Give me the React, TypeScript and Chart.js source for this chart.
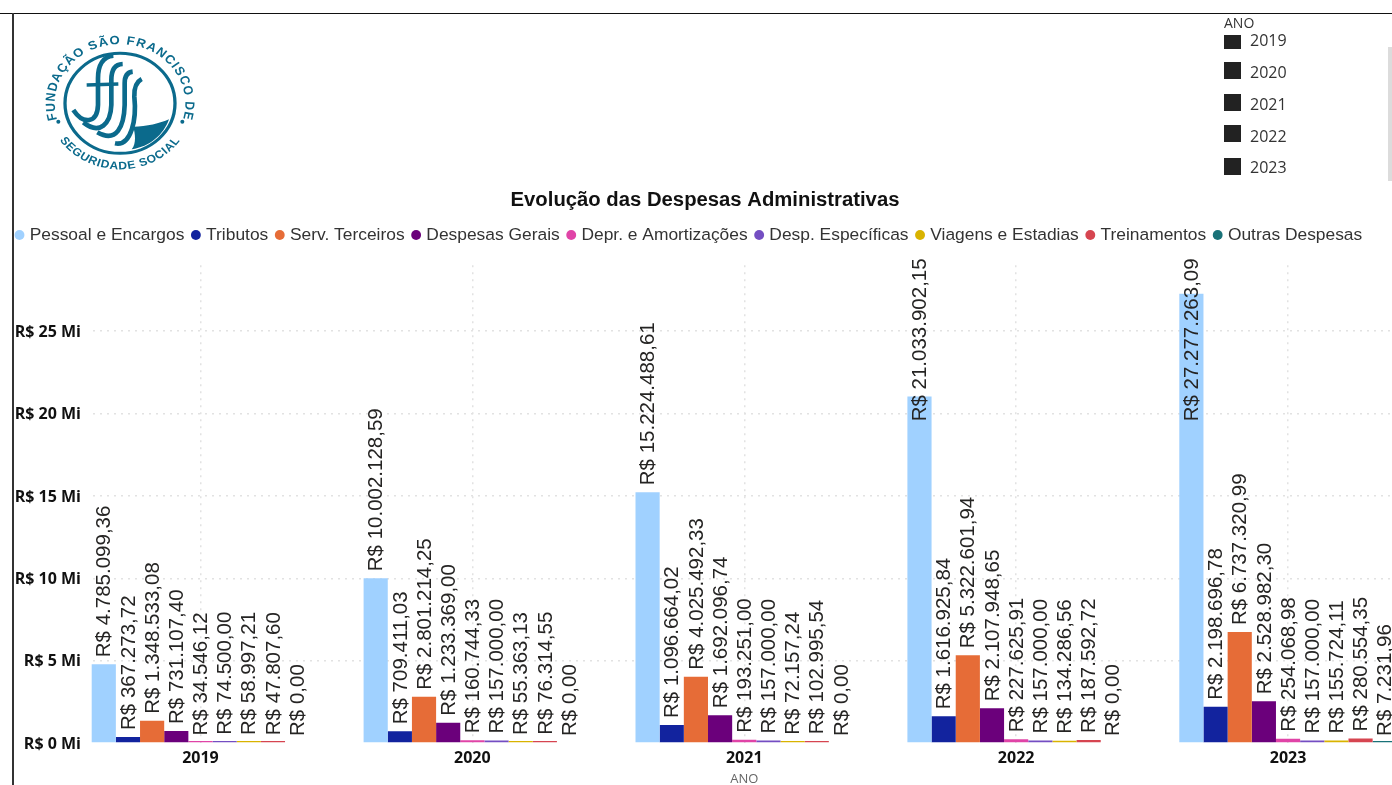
import React, { useEffect, useRef } from "react";
import { Chart, registerables } from "chart.js";

Chart.register(...registerables);

const years = ["2019", "2020", "2021", "2022", "2023"];
const yTickValues = [0, 5000000, 10000000, 15000000, 20000000, 25000000];
const pessoal = [4785099.36, 10002128.59, 15224488.61, 21033902.15, 27277263.09];
const tributos = [367273.72, 709411.03, 1096664.02, 1616925.84, 2198696.78];
const servTerceiros = [1348533.08, 2801214.25, 4025492.33, 5322601.94, 6737320.99];
const despesasGerais = [731107.4, 1233369.0, 1692096.74, 2107948.65, 2528982.3];
const deprAmort = [34546.12, 160744.33, 193251.0, 227625.91, 254068.98];
const despEspecificas = [74500.0, 157000.0, 157000.0, 157000.0, 157000.0];
const viagens = [58997.21, 55363.13, 72157.24, 134286.56, 155724.11];
const treinamentos = [47807.6, 76314.55, 102995.54, 187592.72, 280554.35];
const outras = [0, 0, 0, 0, 7231.96];

const seriesNames = [
  "Pessoal e Encargos",
  "Tributos",
  "Serv. Terceiros",
  "Despesas Gerais",
  "Depr. e Amortizações",
  "Desp. Específicas",
  "Viagens e Estadias",
  "Treinamentos",
  "Outras Despesas",
];
const seriesValues = [pessoal, tributos, servTerceiros, despesasGerais, deprAmort, despEspecificas, viagens, treinamentos, outras];
const seriesColors = ["#A0D1FF", "#12239E", "#E66C37", "#6B007B", "#E044A7", "#744EC2", "#D9B300", "#D64550", "#197278"];

const TITLE = "Evolução das Despesas Administrativas";
const brl = new Intl.NumberFormat("pt-BR", { minimumFractionDigits: 2, maximumFractionDigits: 2 });
const label = (v: number) => "R$ " + brl.format(v);

const valueLabels = {
  id: "valueLabels",
  beforeLayout(chart: any) {
    const lg = chart.legend;
    if (lg && !lg.__patched) {
      lg.__patched = true;
      const fit = lg.fit;
      lg.fit = function () {
        fit.call(this);
        this.height += 11.7;
      };
    }
  },
  afterLayout(chart: any) {
    if (chart.titleBlock) {
      chart.titleBlock.left = 0;
      chart.titleBlock.right = 1410;
    }
  },
  afterDatasetsDraw(chart: any) {
    const ctx = chart.ctx;
    ctx.save();
    ctx.font = '20.5px "Liberation Sans"';
    ctx.fillStyle = "#252423";
    ctx.textAlign = "left";
    ctx.textBaseline = "middle";
    chart.data.datasets.forEach((ds: any, di: number) => {
      chart.getDatasetMeta(di).data.forEach((el: any, i: number) => {
        const text = label(ds.data[i]);
        const w = ctx.measureText(text).width;
        const y = Math.max(chart.scales.y.getPixelForValue(ds.data[i]) - 7, chart.chartArea.top - 7 + w);
        ctx.save();
        ctx.translate(el.x + 1, y);
        ctx.rotate(-Math.PI / 2);
        ctx.fillText(text, 0, 0);
        ctx.restore();
      });
    });
    ctx.restore();
  },
};

function Logo() {
  const c = "#0B6A8C";
  return (
    <svg viewBox="0 0 570 495" width={190} height={165} style={{ position: "absolute", left: 20, top: 15 }}>
      <defs>
        <path id="arcTop" d="M -172 46 A 178 178 0 1 1 172 46" />
        <path id="arcBottom" d="M -172 98 A 198 198 0 0 0 172 98" />
      </defs>
      <g transform="translate(300 265) scale(1.1 1)">
        <circle cx={0} cy={0} r={150} fill="none" stroke={c} strokeWidth={9} />
        <text fontFamily="Liberation Sans" fontWeight="bold" fontSize={36} fill={c} letterSpacing={3.2}>
          <textPath href="#arcTop" startOffset="50%" textAnchor="middle">FUNDAÇÃO SÃO FRANCISCO DE</textPath>
        </text>
        <text fontFamily="Liberation Sans" fontWeight="bold" fontSize={33} fill={c} letterSpacing={2}>
          <textPath href="#arcBottom" startOffset="50%" textAnchor="middle">SEGURIDADE SOCIAL</textPath>
        </text>
      </g>
      <circle cx={115} cy={320} r={6} fill={c} />
      <circle cx={487} cy={320} r={6} fill={c} />
      <path d="M340 335 C 380 335 420 325 447 313 C 430 360 390 395 335 403 C 350 385 345 355 340 335 Z" fill={c} />
      <g fill="none" stroke={c} strokeWidth={14}>
        <path d="M160 285 C 190 330 232 325 234 270 L 234 190 C 234 150 250 125 280 122" />
        <path d="M190 322 C 240 362 272 325 274 270 L 274 195 C 274 165 285 148 308 147" />
        <path d="M232 352 C 290 385 312 335 314 270 L 314 205 C 314 185 320 172 338 170" />
        <path d="M285 385 C 335 395 350 310 343 245 C 342 220 350 200 365 192" />
        <path d="M200 210 L 295 207" strokeWidth={11} />
      </g>
    </svg>
  );
}

function Slicer() {
  const squareTops = [35, 62, 94, 125, 158];
  const textCenters = [40, 72, 104, 136, 167];
  return (
    <>
      <div style={{ position: "absolute", left: 1224, top: 14, font: '14px "Open Sans"', color: "#333", lineHeight: "18px" }}>ANO</div>
      <div style={{ position: "absolute", left: 1220, top: 33, width: 110, height: 150, overflow: "hidden" }}>
        {years.map((y, i) => (
          <React.Fragment key={y}>
            <div style={{ position: "absolute", left: 4, top: squareTops[i] - 33, width: 17, height: i === 0 ? 14 : 17, background: "#222" }} />
            <div style={{ position: "absolute", left: 30, top: textCenters[i] - 43, font: '16px "Open Sans"', color: "#333", lineHeight: "20px" }}>{y}</div>
          </React.Fragment>
        ))}
      </div>
      <div style={{ position: "absolute", left: 1388, top: 47, width: 4, height: 134, background: "#dcdcdc" }} />
    </>
  );
}

export default function App() {
  const ref = useRef<HTMLCanvasElement>(null);
  useEffect(() => {
    const chart = new Chart(ref.current as HTMLCanvasElement, {
      type: "bar",
      data: {
        labels: years,
        datasets: seriesNames.map((name, i) => ({
          label: name,
          data: seriesValues[i],
          backgroundColor: (c: any) => (c.raw === 0 ? "transparent" : seriesColors[i]),
          minBarLength: 2,
          pointStyle: "circle",
        })),
      },
      options: {
        animation: false,
        responsive: false,
        layout: { padding: { top: 185, left: 8, right: 0, bottom: 0 } },
        datasets: { bar: { categoryPercentage: 217.5 / 271.9, barPercentage: 1 } },
        plugins: {
          tooltip: { enabled: false },
          title: {
            display: true,
            text: TITLE,
            color: "#111",
            font: { family: "Liberation Sans", size: 20.3, weight: "bold" },
            padding: { top: 3, bottom: 3.9 },
          },
          legend: {
            position: "top",
            align: "start",
            labels: {
              usePointStyle: true,
              pointStyle: "circle",
              boxWidth: 3,
              boxHeight: 7,
              padding: 10,
              color: "#333",
              font: { family: "Liberation Sans", size: 17.4 },
              generateLabels: (chart: any) =>
                chart.data.datasets.map((d: any, i: number) => ({
                  text: d.label,
                  fillStyle: seriesColors[i],
                  strokeStyle: seriesColors[i],
                  lineWidth: 0,
                  pointStyle: "circle",
                  datasetIndex: i,
                  fontColor: "#333",
                })),
            },
          },
        },
        scales: {
          x: {
            afterFit: (s: any) => {
              s.height = 42;
            },
            grid: { offset: false, color: "#e2e2e2", lineWidth: 1.5, drawTicks: false, tickLength: 0 },
            border: { display: false, dash: [2, 5] },
            ticks: { color: "#111", padding: 6, font: { family: "Open Sans", size: 16, weight: "bold" } },
            title: { display: true, text: "ANO", color: "#666", padding: { top: 1, bottom: -2 }, font: { family: "Open Sans", size: 13 } },
          },
          y: {
            min: 0,
            max: 29000000,
            afterFit: (s: any) => {
              s.width = 56.5;
              s._computeLabelArea = () => null;
            },
            afterBuildTicks: (s: any) => {
              s.ticks = yTickValues.map((value) => ({ value }));
            },
            grid: {
              color: (c: any) => (c.tick && c.tick.value === 0 ? "transparent" : "#e2e2e2"),
              lineWidth: 1.5,
              drawTicks: false,
              tickLength: 0,
            },
            border: { display: false, dash: [2, 5] },
            ticks: {
              autoSkip: false,
              padding: -16.5,
              labelOffset: 1,
              color: "#111",
              showLabelBackdrop: true,
              backdropColor: "#fff",
              backdropPadding: { top: 0, bottom: 0, left: 2, right: 9 },
              font: { family: "Open Sans", size: 16, weight: "bold" },
              callback: (v: any) => "R$ " + Number(v) / 1000000 + " Mi",
            },
          },
        },
      } as any,
      plugins: [valueLabels],
    });
    return () => chart.destroy();
  }, []);
  return (
    <div style={{ position: "absolute", left: 0, top: 0, width: 1392, height: 785, overflow: "hidden", background: "#fff" }}>
      <canvas ref={ref} width={1424} height={785} style={{ position: "absolute", left: 0, top: 0 }} />
      <div style={{ position: "absolute", left: 0, top: 13, width: 1392, height: 1, background: "#111" }} />
      <div style={{ position: "absolute", left: 12, top: 13, width: 1.5, height: 772, background: "#333" }} />
      <Logo />
      <Slicer />
    </div>
  );
}
